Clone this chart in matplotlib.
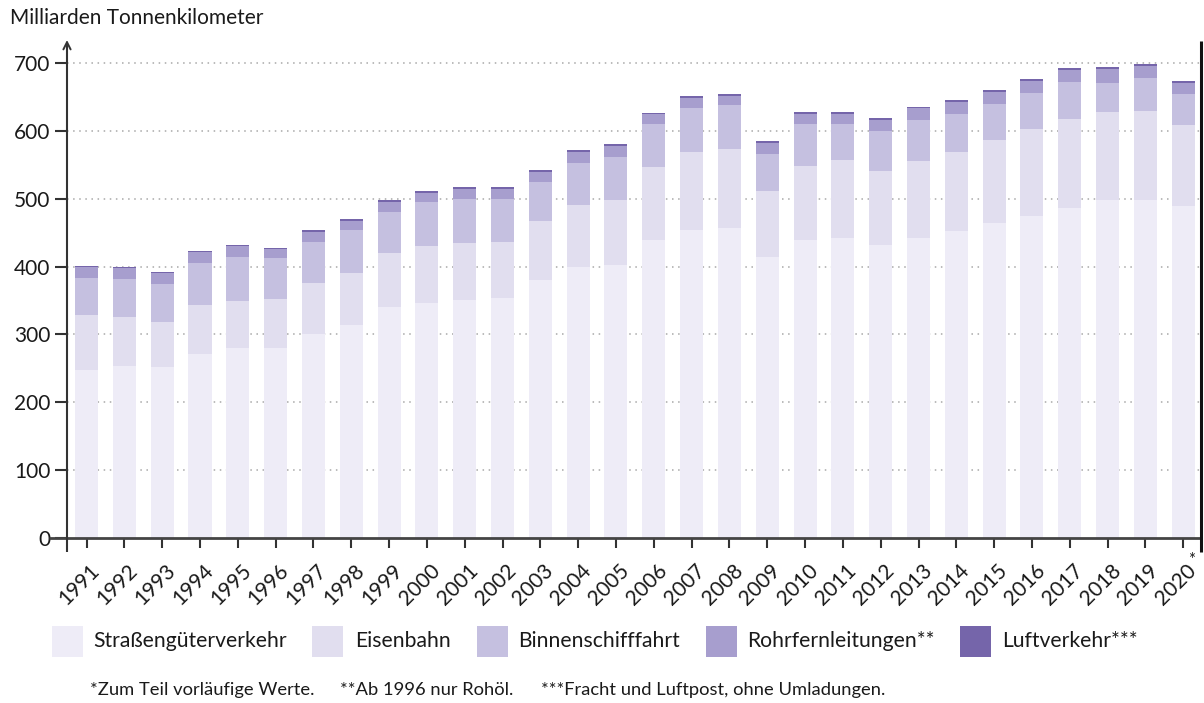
import matplotlib
matplotlib.use("Agg")
import matplotlib.pyplot as plt
from matplotlib.patches import Rectangle
from matplotlib.transforms import ScaledTranslation
import numpy as np

plt.rcParams['font.family'] = ['Lato', 'DejaVu Sans']

# Güterverkehrsleistung in Milliarden Tonnenkilometer
years = [str(y) for y in range(1991, 2021)]
strasse = [247.6, 253.5, 252.0, 271.1, 280.0, 280.0, 300.6, 313.9, 340.4, 346.3,
           350.7, 353.7, 380.2, 399.4, 402.3, 439.1, 453.9, 456.8, 414.1, 439.1,
           442.1, 431.8, 442.1, 452.4, 464.2, 474.5, 486.3, 498.1, 498.1, 489.2]
eisenbahn = [81.0, 72.2, 66.3, 72.3, 69.2, 72.2, 75.2, 76.6, 79.6, 84.0,
             84.0, 82.5, 86.9, 91.3, 95.8, 107.6, 114.9, 116.4, 97.2, 109.1,
             114.9, 109.0, 113.5, 116.4, 122.3, 128.2, 131.1, 129.7, 131.1, 119.4]
binnenschiff = [54.5, 56.0, 56.0, 61.8, 64.8, 60.4, 60.4, 63.4, 60.4, 64.8,
                64.9, 63.4, 57.5, 61.9, 63.4, 63.4, 64.9, 64.9, 54.6, 61.9,
                53.1, 59.0, 60.4, 56.0, 53.1, 53.1, 54.6, 42.7, 48.7, 45.7]
rohrleitung = [16.7, 16.2, 16.7, 16.7, 16.3, 13.3, 14.7, 13.2, 14.7, 13.3,
               14.7, 14.7, 14.8, 16.2, 16.2, 14.7, 14.7, 13.2, 16.2, 14.7,
               14.7, 16.2, 17.7, 17.7, 17.6, 17.7, 17.7, 20.6, 17.7, 16.2]
luft = [0.5, 1.5, 1.0, 1.0, 2.0, 1.5, 2.5, 2.5, 2.5, 2.5,
        2.5, 2.5, 2.5, 2.5, 2.5, 1.5, 2.5, 2.5, 2.5, 2.5,
        2.5, 2.5, 1.5, 2.5, 2.5, 3.5, 2.5, 2.5, 2.5, 2.5]
y_ticks = [0, 100, 200, 300, 400, 500, 600, 700]

series = [
    ("Straßengüterverkehr", strasse, "#EEECF7"),
    ("Eisenbahn", eisenbahn, "#E1DEEF"),
    ("Binnenschifffahrt", binnenschiff, "#C5C0E0"),
    ("Rohrfernleitungen**", rohrleitung, "#A79ECE"),
    ("Luftverkehr***", luft, "#7565AA"),
]

W, H = 1204, 703
fig = plt.figure(figsize=(W / 100, H / 100), dpi=100)
ax_left, ax_right, ax_top, ax_bottom = 67, 1201, 41, 538
ax = fig.add_axes([ax_left / W, 1 - ax_bottom / H,
                   (ax_right - ax_left) / W, (ax_bottom - ax_top) / H])

x = np.arange(len(years))
bottom = np.zeros(len(years))
for name, vals, col in series:
    v = np.array(vals)
    ax.bar(x, v, width=0.61, bottom=bottom, color=col, linewidth=0, zorder=2)
    bottom += v

ax.set_xlim(-0.516, 29.47)
ax.set_ylim(0, 732.4)

for s in ax.spines.values():
    s.set_visible(False)

ax.set_yticks(y_ticks)
ax.set_yticklabels([str(t) for t in y_ticks], fontsize=15, color="#1a1a1a")
ax.set_xticks(x)
ax.set_xticklabels(years, fontsize=15, color="#1a1a1a", rotation=45,
                   ha="right", va="top", rotation_mode="anchor")
ax.tick_params(axis="y", length=9, width=1.5, color="#333333", pad=3)
ax.tick_params(axis="x", length=7, width=1.5, color="#333333", pad=9)
shift = ScaledTranslation(3 / 100, 0, fig.dpi_scale_trans)
for lbl in ax.get_xticklabels():
    lbl.set_transform(lbl.get_transform() + shift)

# dotted horizontal guides
for t in y_ticks[1:]:
    ax.axhline(t, color="#a8a8a8", lw=1.1, linestyle=(0, (1, 3)), zorder=1)

# axis lines
ax.plot([-0.016, 1], [0, 0], transform=ax.transAxes, color="#444444",
        lw=2, clip_on=False, zorder=3, solid_capstyle="butt")
ax.plot([0, 0], [-0.028, 0.99], transform=ax.transAxes, color="#333333",
        lw=1.5, clip_on=False, zorder=3, solid_capstyle="butt")
ax.annotate("", xy=(0, 1.002), xytext=(0, 0.97), xycoords="axes fraction",
            arrowprops=dict(arrowstyle="->", lw=1.4, color="#333333",
                            mutation_scale=13, shrinkA=0, shrinkB=0))
ax.plot([1, 1], [-0.028, 1.0], transform=ax.transAxes, color="#111111",
        lw=2.2, clip_on=False, zorder=3, solid_capstyle="butt")

# asterisk for the provisional year
ax.annotate("*", xy=(29, 0), xycoords="data", xytext=(8, -22),
            textcoords="offset pixels", fontsize=12, color="#1a1a1a",
            ha="center", va="center")

fig.text(10 / W, 1 - 18 / H, "Milliarden Tonnenkilometer", fontsize=15,
         color="#1a1a1a", ha="left", va="center")

# legend
leg_y = 641
leg_items = [(52, 93), (312, 355), (477, 518), (706, 747), (960, 1002)]
for (px, tx), (name, _, col) in zip(leg_items, series):
    fig.patches.append(Rectangle((px / W, 1 - (leg_y + 15.5) / H), 31 / W, 31 / H,
                                 transform=fig.transFigure, color=col, lw=0))
    fig.text(tx / W, 1 - leg_y / H, name, fontsize=15.2, color="#1a1a1a",
             ha="left", va="center")

notes = [(90, "*Zum Teil vorläufige Werte."), (340, "**Ab 1996 nur Rohöl."),
         (541, "***Fracht und Luftpost, ohne Umladungen.")]
for nx, txt in notes:
    fig.text(nx / W, 1 - 690 / H, txt, fontsize=13.2, color="#1a1a1a",
             ha="left", va="center")

fig.savefig("out.png", dpi=100)
